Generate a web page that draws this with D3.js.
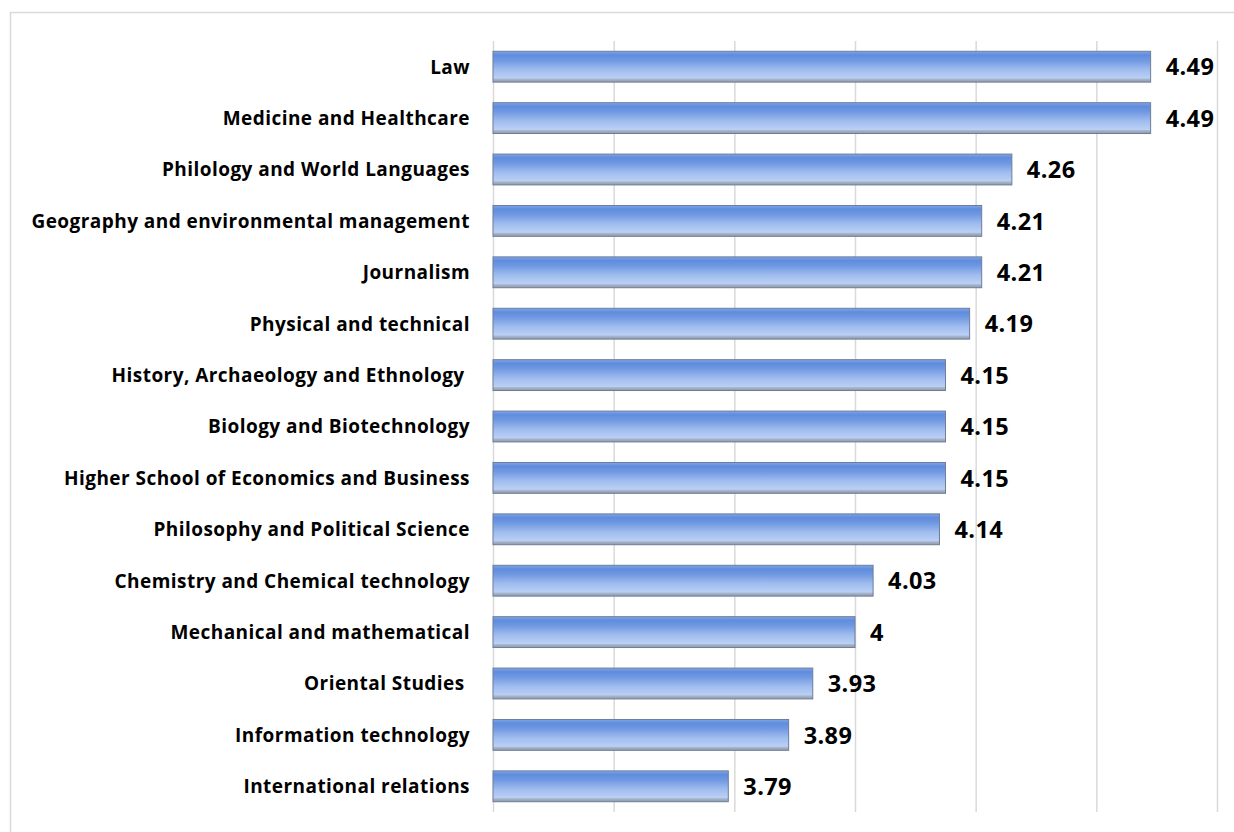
<!DOCTYPE html>
<html><head><meta charset="utf-8">
<script src="https://cdn.jsdelivr.net/npm/d3@7"></script>
<style>html,body{margin:0;padding:0;background:#fff;}svg{display:block;}</style>
</head><body>
<svg id="chart" width="1234" height="832"></svg>
<script>
const categories = [
  "Law",
  "Medicine and Healthcare",
  "Philology and World Languages",
  "Geography and environmental management",
  "Journalism",
  "Physical and technical",
  "History, Archaeology and Ethnology ",
  "Biology and Biotechnology",
  "Higher School of Economics and Business",
  "Philosophy and Political Science",
  "Chemistry and Chemical technology",
  "Mechanical and mathematical",
  "Oriental Studies ",
  "Information technology",
  "International relations"
];
const values = [4.49, 4.49, 4.26, 4.21, 4.21, 4.19, 4.15, 4.15, 4.15, 4.14, 4.03, 4, 3.93, 3.89, 3.79];
const valueLabels = ["4.49","4.49","4.26","4.21","4.21","4.19","4.15","4.15","4.15","4.14","4.03","4","3.93","3.89","3.79"];
const xTicks = [3.4, 3.6, 3.8, 4.0, 4.2, 4.4, 4.6];

const svg = d3.select("#chart");
const margin = {left: 493, right: 1234 - 1217, top: 41, bottom: 832 - 812};

const defs = svg.append("defs");
const grad = defs.append("linearGradient").attr("id","barGrad").attr("x1",0).attr("y1",0).attr("x2",0).attr("y2",1);
[[0,"#7fa6e8"],[0.12,"#5f8cdd"],[0.3,"#7199e2"],[0.6,"#a0bdef"],[0.87,"#bad0f5"],[0.9,"#aab7cd"],[1,"#8d98ab"]]
  .forEach(([o,c]) => grad.append("stop").attr("offset",o).attr("stop-color",c));

// outer frame
svg.append("rect").attr("x",10.5).attr("y",12.5).attr("width",1300).attr("height",900)
  .attr("fill","none").attr("stroke","#d9d9d9").attr("stroke-width",1.5);

const x = d3.scaleLinear().domain([3.4, 4.6]).range([margin.left, 1217]);
const y = d3.scaleBand().domain(categories).range([margin.top, 812]).paddingInner(0.4).paddingOuter(0.2);

// gridlines
svg.append("g").attr("transform",`translate(0,${812})`)
  .call(d3.axisBottom(x).tickValues(xTicks).tickSize(-(812 - margin.top)).tickFormat(""))
  .call(g => g.select(".domain").remove())
  .call(g => g.selectAll(".tick line").attr("stroke","#d9d9d9").attr("stroke-width",1.5));

// bars
svg.append("g").selectAll("rect").data(values).join("rect")
  .attr("x", x(3.4))
  .attr("y", (d,i) => y(categories[i]))
  .attr("width", d => x(d) - x(3.4))
  .attr("height", y.bandwidth())
  .attr("fill","url(#barGrad)")
  .attr("stroke","#6e7e98").attr("stroke-width",1);

// category labels
svg.append("g").selectAll("text").data(categories).join("text")
  .attr("x", 470)
  .attr("y", d => y(d) + y.bandwidth()/2)
  .attr("dy","0.36em")
  .attr("text-anchor","end")
  .attr("font-family","'Open Sans', sans-serif")
  .attr("font-weight","bold")
  .attr("font-size","19px")
  .attr("letter-spacing","0.45px")
  .attr("fill","#000")
  .style("white-space","pre")
  .text(d => d);

// value labels
svg.append("g").selectAll("text").data(values).join("text")
  .attr("x", d => x(d) + 15)
  .attr("y", (d,i) => y(categories[i]) + y.bandwidth()/2)
  .attr("dy","0.37em")
  .attr("font-family","'Open Sans', sans-serif")
  .attr("font-weight","bold")
  .attr("font-size","23.5px")
  .attr("letter-spacing","0.4px")
  .attr("fill","#000")
  .text((d,i) => valueLabels[i]);
</script>
</body></html>
